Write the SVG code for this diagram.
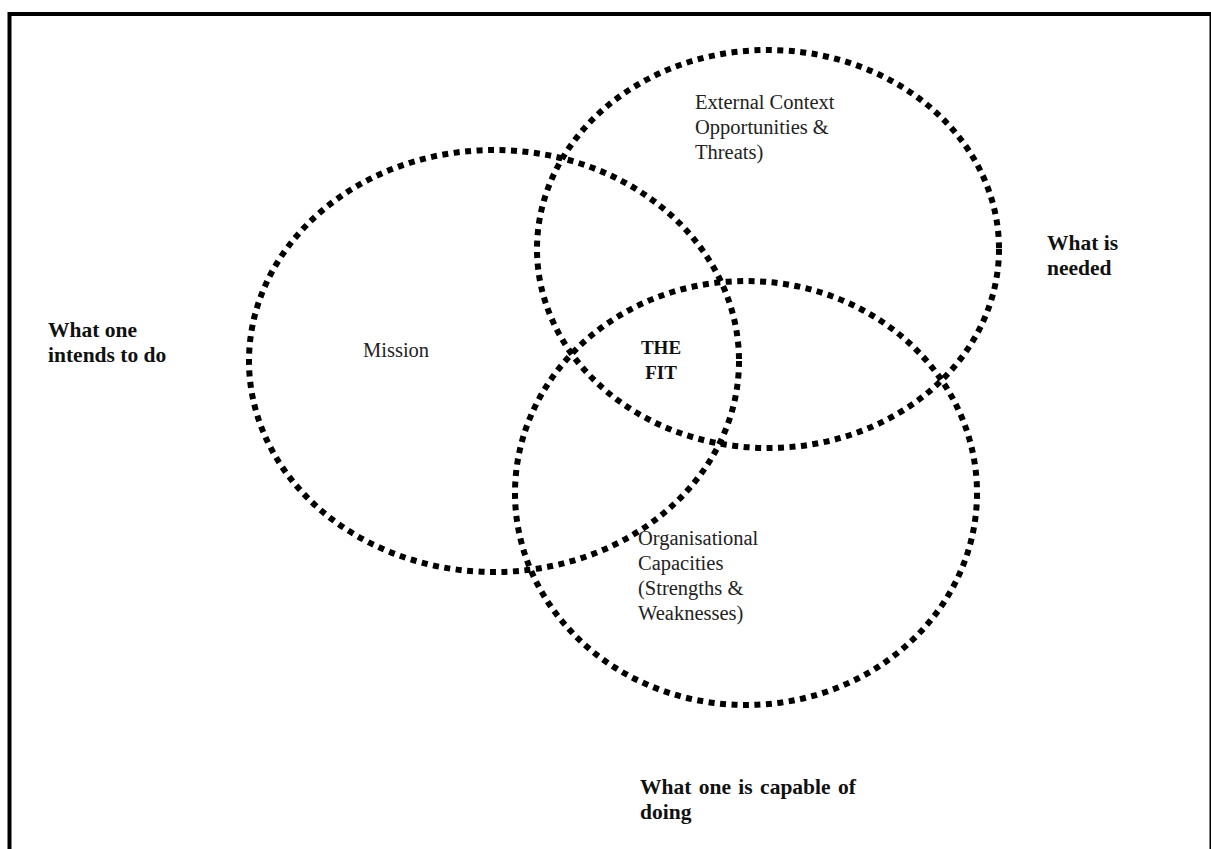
<svg xmlns="http://www.w3.org/2000/svg" width="1211" height="849" viewBox="0 0 1211 849">
<style>
.ring{fill:none;stroke:#000;stroke-width:6;stroke-dasharray:6 5.5}
.t{font-family:"Liberation Serif","Times New Roman",serif;font-size:20.5px;fill:#222}
.b{font-family:"Liberation Serif","Times New Roman",serif;font-size:21.5px;font-weight:bold;fill:#111}
</style>
<rect width="1211" height="849" fill="#fff"/>
<rect x="9.5" y="14" width="1202" height="850" fill="none" stroke="#000" stroke-width="4"/>
<g id="mission">
<ellipse class="ring" cx="494" cy="361" rx="245" ry="211"/>
<text class="t" x="363" y="357">Mission</text>
</g>
<g id="external">
<ellipse class="ring" cx="768" cy="249" rx="231" ry="199"/>
<text class="t"><tspan x="695" y="109">External Context</tspan><tspan x="695" y="134">Opportunities &amp;</tspan><tspan x="695" y="159">Threats)</tspan></text>
</g>
<g id="organisation">
<ellipse class="ring" cx="746" cy="493" rx="231" ry="212"/>
<text class="t"><tspan x="638" y="545">Organisational</tspan><tspan x="638" y="570">Capacities</tspan><tspan x="638" y="595">(Strengths &amp;</tspan><tspan x="638" y="620">Weaknesses)</tspan></text>
</g>
<g id="fit">
<text class="b" text-anchor="middle" style="font-size:19px"><tspan x="661" y="354">THE</tspan><tspan x="661" y="379">FIT</tspan></text>
</g>
<g id="label-intends">
<text class="b"><tspan x="48" y="337">What one</tspan><tspan x="48" y="362">intends to do</tspan></text>
</g>
<g id="label-needed">
<text class="b"><tspan x="1047" y="250">What is</tspan><tspan x="1047" y="275">needed</tspan></text>
</g>
<g id="label-capable">
<text class="b"><tspan x="640" y="794" word-spacing="2">What one is capable of</tspan><tspan x="640" y="819">doing</tspan></text>
</g>
<g id="connectors"/>
</svg>
